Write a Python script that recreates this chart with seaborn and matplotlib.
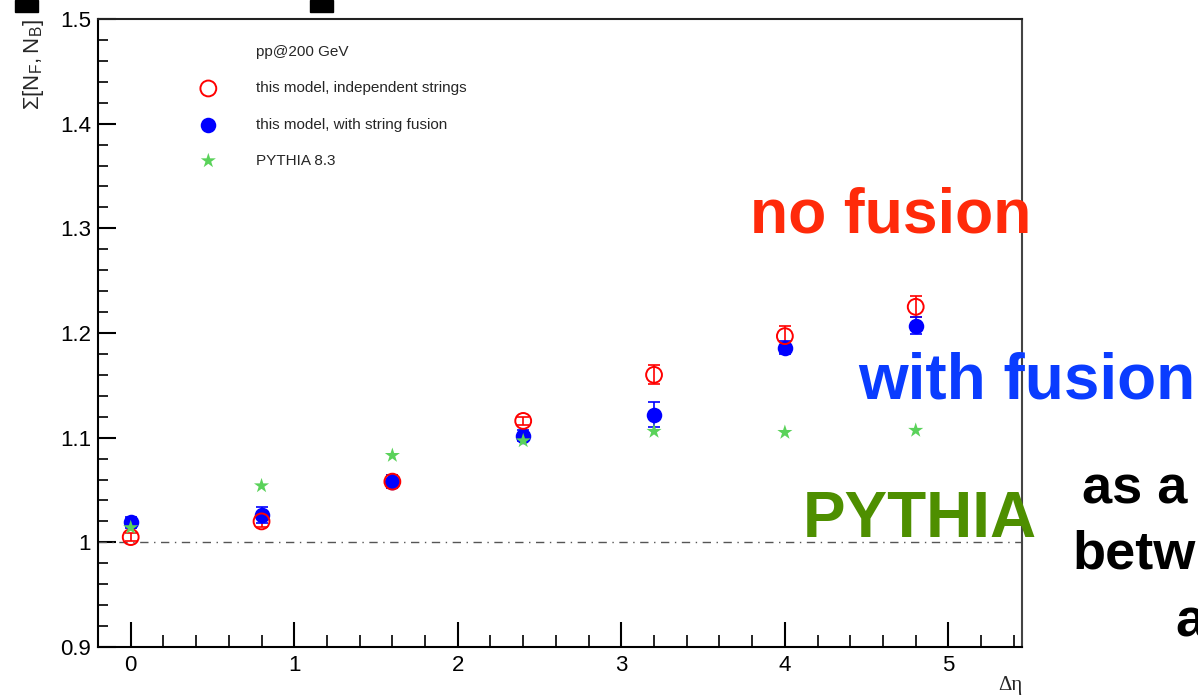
import matplotlib
matplotlib.use("Agg")
import matplotlib.pyplot as plt
import seaborn as sns
import pandas as pd
from matplotlib.ticker import MultipleLocator
from matplotlib.lines import Line2D

# delta eta bins
deta = [0.0, 0.8, 1.6, 2.4, 3.2, 4.0, 4.8]

# this model, independent strings
indep = [1.005, 1.020, 1.058, 1.116, 1.160, 1.197, 1.225]
indep_err = [0.004, 0.005, 0.006, 0.004, 0.009, 0.010, 0.010]

# this model, with string fusion
fusion = [1.019, 1.026, 1.058, 1.102, 1.122, 1.186, 1.207]
fusion_err = [0.005, 0.008, 0.006, 0.005, 0.012, 0.006, 0.008]

# PYTHIA 8.3
pythia = [1.014, 1.054, 1.083, 1.097, 1.106, 1.105, 1.107]

df = pd.DataFrame({"deta": deta, "indep": indep, "fusion": fusion, "pythia": pythia})

sns.set_style("ticks")
plt.rcParams["font.family"] = ["Liberation Sans", "DejaVu Sans"]
plt.rcParams["mathtext.fontset"] = "custom"
plt.rcParams["mathtext.rm"] = "Liberation Sans"

fig = plt.figure(figsize=(11.98, 6.99), dpi=100)
ax = fig.add_axes([0.0818, 0.0744, 0.7713, 0.8984])

# reference line at 1
ax.axhline(1.0, color="#555555", lw=1.0, ls=(0, (6, 4, 1, 4)), zorder=1)

# error bars
ax.errorbar(deta, indep, yerr=indep_err, fmt="none", ecolor="red", elinewidth=1.2, capsize=4, capthick=1.2, zorder=2)
ax.errorbar(deta, fusion, yerr=fusion_err, fmt="none", ecolor="blue", elinewidth=1.2, capsize=4, capthick=1.2, zorder=2)

sns.scatterplot(data=df, x="deta", y="fusion", ax=ax, marker="o", s=125, color="blue",
                edgecolor="blue", linewidth=0, zorder=3, label="this model, with string fusion")
sns.scatterplot(data=df, x="deta", y="indep", ax=ax, marker="o", s=130, facecolor="none",
                edgecolor="red", linewidth=1.4, zorder=4, label="this model, independent strings")
sns.scatterplot(data=df, x="deta", y="pythia", ax=ax, marker="*", s=130, color="#5ad25a",
                edgecolor="none", linewidth=0, zorder=5, label="PYTHIA 8.3")

ax.set_xlim(-0.2, 5.45)
ax.set_ylim(0.9, 1.5)
ax.xaxis.set_major_locator(MultipleLocator(1))
ax.xaxis.set_minor_locator(MultipleLocator(0.2))
ax.yaxis.set_major_locator(MultipleLocator(0.1))
ax.yaxis.set_minor_locator(MultipleLocator(0.02))
ax.tick_params(axis="both", which="both", direction="in", top=False, right=False, colors="black")
ax.tick_params(axis="x", which="major", length=18, width=1.5, labelsize=16, pad=6)
ax.tick_params(axis="x", which="minor", length=9, width=1.2)
ax.tick_params(axis="y", which="major", length=13, width=1.5, labelsize=16, pad=5)
ax.tick_params(axis="y", which="minor", length=7, width=1.2)
ax.set_yticks([0.9, 1.0, 1.1, 1.2, 1.3, 1.4, 1.5])
ax.set_yticklabels(["0.9", "1", "1.1", "1.2", "1.3", "1.4", "1.5"])
for side in ["left", "bottom", "top", "right"]:
    ax.spines[side].set_visible(True)
    ax.spines[side].set_linewidth(1.5)
    ax.spines[side].set_color("black")
ax.spines["right"].set_color("#444444")
ax.spines["top"].set_color("#222222")

ax.set_xlabel("Δη", loc="right", fontsize=15, labelpad=0, family=["Liberation Serif", "DejaVu Serif"])
ax.set_ylabel(r"$\Sigma[\mathrm{N}_{\mathrm{F}},\mathrm{N}_{\mathrm{B}}]$", loc="top", fontsize=16, labelpad=8)
ax.yaxis.set_label_coords(-0.056, 1.0)

# legend, no frame, with header line
handles, labels = ax.get_legend_handles_labels()
order = [1, 0, 2]
header = Line2D([], [], linestyle="none", marker="none")
leg = ax.legend([header] + [handles[i] for i in order], ["pp@200 GeV"] + [labels[i] for i in order],
                loc="upper left", bbox_to_anchor=(0.088, 0.98), frameon=False, fontsize=11,
                labelspacing=1.45, handletextpad=2.1, markerscale=1.0)

# overlay slide annotations
fig.text(0.626, 0.667, "no fusion", color="#ff2a0a", fontsize=45, fontweight="bold", ha="left", va="baseline")
fig.text(0.716, 0.430, "with fusion", color="#0a3cff", fontsize=46, fontweight="bold", ha="left", va="baseline", zorder=0)
fig.text(0.670, 0.232, "PYTHIA", color="#4e8f00", fontsize=46, fontweight="bold", ha="left", va="baseline")
fig.text(0.903, 0.280, "as a", color="black", fontsize=39, fontweight="bold", ha="left", va="baseline")
fig.text(0.895, 0.187, "betw", color="black", fontsize=39, fontweight="bold", ha="left", va="baseline")
fig.text(0.981, 0.089, "a", color="black", fontsize=39, fontweight="bold", ha="left", va="baseline")

# cut-off slide title fragments at the top edge
for x0, w in [(15, 23), (310, 23)]:
    fig.patches.append(plt.Rectangle((x0 / 1198, 1 - 12 / 699), w / 1198, 12 / 699,
                                     transform=fig.transFigure, color="black", figure=fig))

fig.savefig("out.png", dpi=100)
